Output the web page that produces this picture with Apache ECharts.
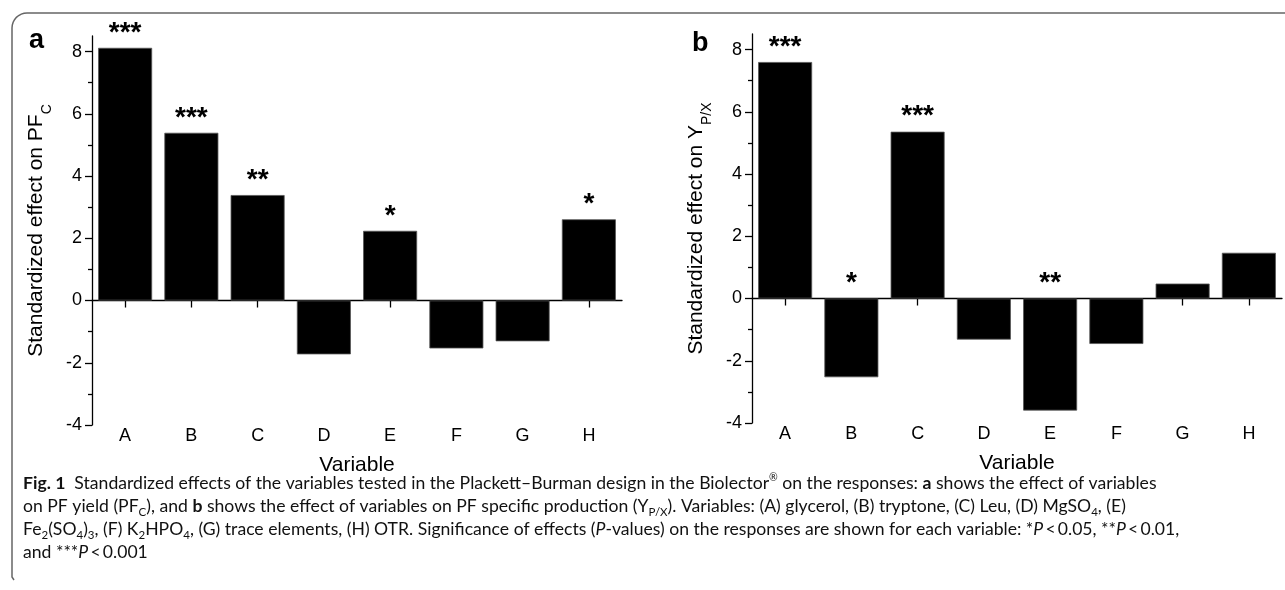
<!DOCTYPE html>
<html>
<head>
<meta charset="utf-8">
<script src="https://cdn.jsdelivr.net/npm/echarts@6/dist/echarts.min.js"></script>
<style>
  html, body { margin: 0; padding: 0; background: #fff; }
  #main { width: 1285px; height: 590px; }
</style>
</head>
<body>
<div id="main"></div>
<script>
  // variables tested in the Plackett-Burman design
  const categories = ['A', 'B', 'C', 'D', 'E', 'F', 'G', 'H']
  // standardized effect on PF_C (panel a)
  const effectPFc = [8.12, 5.39, 3.39, -1.73, 2.24, -1.54, -1.31, 2.61]
  const signifPFc = ['***', '***', '**', '', '*', '', '', '*']
  // standardized effect on Y_P/X (panel b)
  const effectYpx = [7.60, -2.53, 5.36, -1.32, -3.60, -1.46, 0.48, 1.47]
  const signifYpx = ['***', '*', '***', '', '**', '', '', '']
  const majorTicks = [-4, -2, 0, 2, 4, 6, 8]
  const minorTicks = [-3, -1, 1, 3, 5, 7]

  const AX_FONT = 'Liberation Sans, Arial, sans-serif'
  const CAP_FONT = 'Lato, Open Sans, sans-serif'
  const CAP_SIZE = 17.6

  const chart = echarts.init(document.getElementById('main'))

  const grids = [
    {left: 92, top: 36, width: 530, height: 389},
    {left: 752, top: 34, width: 530, height: 389}
  ]

  function xAxesFor (gi) {
    return [
      {
        // labels + title at the bottom
        type: 'category',
        gridIndex: gi,
        position: 'bottom',
        data: categories,
        boundaryGap: true,
        axisLine: {show: false, onZero: false},
        axisTick: {show: false},
        axisLabel: {color: '#000', fontSize: 18, fontFamily: AX_FONT, margin: 2},
        name: 'Variable',
        nameLocation: 'middle',
        nameGap: 30,
        nameTextStyle: {color: '#000', fontSize: 21, fontFamily: AX_FONT}
      },
      {
        // line + ticks sitting on zero
        type: 'category',
        gridIndex: gi,
        position: 'bottom',
        data: categories,
        boundaryGap: true,
        axisLine: {show: true, onZero: true, lineStyle: {color: '#000', width: 1.3}},
        axisTick: {show: true, alignWithLabel: true, length: 7, lineStyle: {color: '#000', width: 1.3}},
        axisLabel: {show: false}
      }
    ]
  }

  function yAxesFor (gi, title, nameGap) {
    return [
      {
        type: 'value',
        gridIndex: gi,
        position: 'left',
        min: -4,
        max: 8.5,
        interval: 2,
        splitLine: {show: false},
        axisLine: {show: true, lineStyle: {color: '#000', width: 1.3}},
        axisTick: {show: true, length: 7, customValues: majorTicks, lineStyle: {color: '#000', width: 1.3}},
        axisLabel: {color: '#000', fontSize: 18, fontFamily: AX_FONT, margin: 10, customValues: majorTicks},
        name: title,
        nameLocation: 'middle',
        nameRotate: 90,
        nameGap: nameGap,
        nameTextStyle: {
          color: '#000',
          fontSize: 21,
          fontFamily: AX_FONT,
          lineHeight: 36,
          rich: {
            sub: {fontSize: 14, fontFamily: AX_FONT, color: '#000', verticalAlign: 'bottom', lineHeight: 14}
          }
        }
      },
      {
        // minor ticks only
        type: 'value',
        gridIndex: gi,
        position: 'left',
        min: -4,
        max: 8.5,
        interval: 2,
        splitLine: {show: false},
        axisLine: {show: false},
        axisTick: {show: true, length: 4, customValues: minorTicks, lineStyle: {color: '#000', width: 1.3}},
        axisLabel: {show: false}
      }
    ]
  }

  function barSeries (gi, values, signif) {
    return {
      type: 'bar',
      xAxisIndex: gi * 2 + 1,
      yAxisIndex: gi * 2,
      data: values,
      barWidth: 54,
      itemStyle: {color: '#000', borderColor: '#555', borderWidth: 0.8},
      label: {
        show: true,
        position: 'top',
        distance: 1,
        color: '#000',
        fontSize: 28,
        fontWeight: 'bold',
        fontFamily: AX_FONT,
        formatter: (p) => signif[p.dataIndex]
      }
    }
  }

  // rounded frame (left + top edges)
  const framePts = [[14, 580], [12, 577]]
  const r = 15
  for (let k = 0; k <= 8; k++) {
    const a = Math.PI - (k / 8) * (Math.PI / 2)
    framePts.push([12 + r + r * Math.cos(a), 13 + r - r * Math.sin(a)])
  }
  framePts.push([1285, 13])

  const capRich = {
    b: {fontWeight: 'bold', fontSize: CAP_SIZE, fontFamily: CAP_FONT, fill: '#111', lineHeight: 23},
    i: {fontStyle: 'italic', fontSize: CAP_SIZE, fontFamily: CAP_FONT, fill: '#111', lineHeight: 23},
    sub: {fontSize: 11.5, fontFamily: CAP_FONT, fill: '#111', verticalAlign: 'bottom', lineHeight: 11},
    sup: {fontSize: 10.5, fontFamily: CAP_FONT, fill: '#111', verticalAlign: 'top', lineHeight: 10}
  }
  const capLines = [
    '{b|Fig. 1}  Standardized effects of the variables tested in the Plackett\u2013Burman design in the Biolector{sup|\u00ae} on the responses: {b|a} shows the effect of variables',
    'on PF yield (PF{sub|C}), and {b|b} shows the effect of variables on PF specific production (Y{sub|P/X}). Variables: (A) glycerol, (B) tryptone, (C) Leu, (D) MgSO{sub|4}, (E)',
    'Fe{sub|2}(SO{sub|4}){sub|3}, (F) K{sub|2}HPO{sub|4}, (G) trace elements, (H) OTR. Significance of effects ({i|P}-values) on the responses are shown for each variable: *{i|P}\u2009<\u20090.05, **{i|P}\u2009<\u20090.01,',
    'and ***{i|P}\u2009<\u20090.001'
  ]
  const capY = [483.5, 506.5, 529.5, 552.5]

  const graphics = [
    {type: 'polyline', shape: {points: framePts}, style: {stroke: '#666', lineWidth: 1.5, fill: null}, silent: true},
    {type: 'text', left: 29, top: 27, style: {text: 'a', fontSize: 27, fontWeight: 'bold', fontFamily: AX_FONT, fill: '#000'}},
    {type: 'text', left: 692, top: 30, style: {text: 'b', fontSize: 27, fontWeight: 'bold', fontFamily: AX_FONT, fill: '#000'}}
  ]
  capLines.forEach((line, idx) => {
    graphics.push({
      type: 'text',
      x: 23,
      y: capY[idx],
      style: {
        text: line,
        fontSize: CAP_SIZE,
        fontFamily: CAP_FONT,
        fill: '#111',
        lineHeight: 23,
        verticalAlign: 'middle',
        rich: capRich
      }
    })
  })

  const option = {
    backgroundColor: '#fff',
    animation: false,
    grid: grids,
    xAxis: xAxesFor(0).concat(xAxesFor(1)),
    yAxis: yAxesFor(0, 'Standardized effect on PF{sub|C}', 38).concat(yAxesFor(1, 'Standardized effect on Y{sub|P/X}', 38)),
    series: [
      barSeries(0, effectPFc, signifPFc),
      barSeries(1, effectYpx, signifYpx)
    ],
    graphic: graphics
  }
  chart.setOption(option)
</script>
</body>
</html>
